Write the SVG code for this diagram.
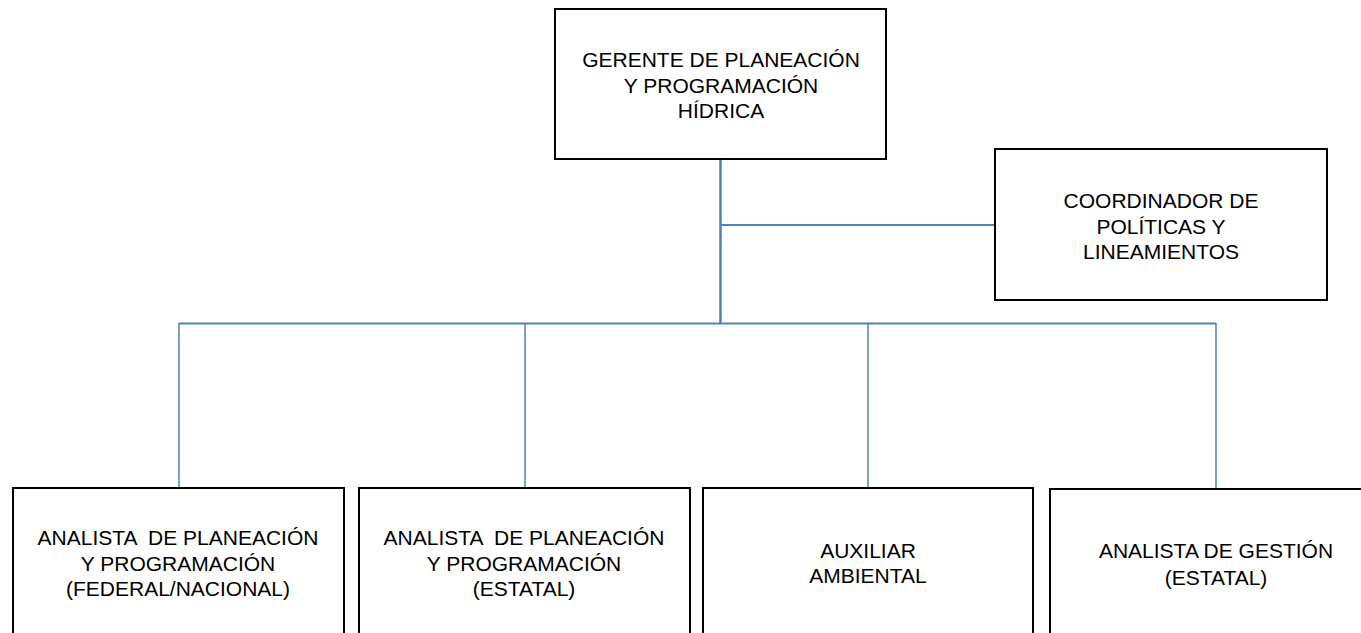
<svg xmlns="http://www.w3.org/2000/svg" width="1361" height="633" viewBox="0 0 1361 633">
<style>
.box{fill:#fff;stroke:#000;stroke-width:2}
.t{font-family:"Liberation Sans",Arial,sans-serif;font-size:21px;fill:#000;text-anchor:middle}
.c{stroke:#4F81BD;fill:none}
</style>
<rect width="1361" height="633" fill="#fff"/>
<g id="connectors">
<line class="c" x1="720.5" y1="159" x2="720.5" y2="324" stroke-width="2.5"/>
<line class="c" x1="720" y1="225" x2="995" y2="225" stroke-width="2"/>
<line class="c" x1="179" y1="323.5" x2="1216" y2="323.5" stroke-width="2"/>
<line class="c" x1="179" y1="323" x2="179" y2="488" stroke-width="1.5"/>
<line class="c" x1="525" y1="323" x2="525" y2="488" stroke-width="1.5"/>
<line class="c" x1="868" y1="323" x2="868" y2="488" stroke-width="1.5"/>
<line class="c" x1="1216" y1="323" x2="1216" y2="489" stroke-width="1.5"/>
</g>
<g id="gerente">
<rect class="box" x="555" y="9" width="331" height="150"/>
<text class="t" x="721" y="67">GERENTE DE PLANEACIÓN</text>
<text class="t" x="721" y="93">Y PROGRAMACIÓN</text>
<text class="t" x="721" y="118">HÍDRICA</text>
</g>
<g id="coordinador">
<rect class="box" x="995" y="149" width="332" height="151"/>
<text class="t" x="1161" y="208">COORDINADOR DE</text>
<text class="t" x="1161" y="234">POLÍTICAS Y</text>
<text class="t" x="1161" y="259">LINEAMIENTOS</text>
</g>
<g id="analista-federal">
<rect class="box" x="13" y="488" width="331" height="160"/>
<text class="t" x="178" y="545" xml:space="preserve">ANALISTA  DE PLANEACIÓN</text>
<text class="t" x="178" y="571">Y PROGRAMACIÓN</text>
<text class="t" x="178" y="596">(FEDERAL/NACIONAL)</text>
</g>
<g id="analista-estatal">
<rect class="box" x="359" y="488" width="331" height="160"/>
<text class="t" x="524" y="545" xml:space="preserve">ANALISTA  DE PLANEACIÓN</text>
<text class="t" x="524" y="571">Y PROGRAMACIÓN</text>
<text class="t" x="524" y="596">(ESTATAL)</text>
</g>
<g id="auxiliar">
<rect class="box" x="703" y="488" width="330" height="160"/>
<text class="t" x="868" y="558">AUXILIAR</text>
<text class="t" x="868" y="583">AMBIENTAL</text>
</g>
<g id="gestion">
<rect class="box" x="1050" y="489" width="340" height="160"/>
<text class="t" x="1216" y="558">ANALISTA DE GESTIÓN</text>
<text class="t" x="1216" y="585">(ESTATAL)</text>
</g>
</svg>
